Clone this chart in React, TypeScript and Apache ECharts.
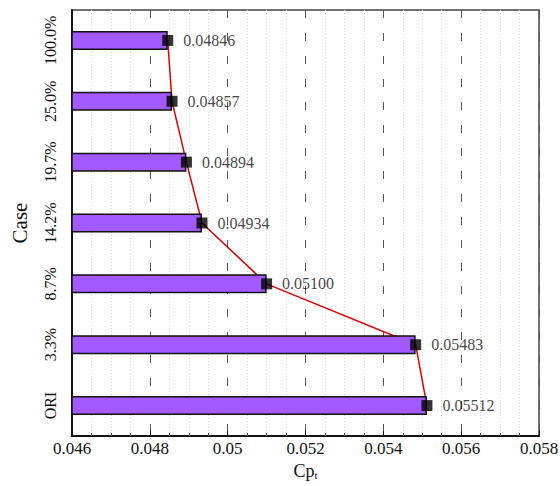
import React, { useEffect, useRef } from "react";
import * as echarts from "echarts";

const categories = ["ORI", "3.3%", "8.7%", "14.2%", "19.7%", "25.0%", "100.0%"];
const cpValues = [0.05512, 0.05483, 0.051, 0.04934, 0.04894, 0.04857, 0.04846];
const xMin = 0.046;
const xMax = 0.058;
const xStep = 0.002;

const FONT = "'Liberation Serif', 'Times New Roman', serif";

export default function App() {
  const ref = useRef<HTMLDivElement>(null);
  useEffect(() => {
    if (!ref.current) return;
    const chart = echarts.init(ref.current, null, { renderer: "svg" });
    chart.setOption({
      animation: false,
      backgroundColor: "#ffffff",
      textStyle: { fontFamily: FONT },
      grid: {
        left: 72,
        right: 21,
        top: 10,
        bottom: 50,
        containLabel: false,
        outerBoundsMode: "none",
        show: true,
        borderColor: "#444",
        borderWidth: 1.5,
        backgroundColor: "transparent",
      },
      xAxis: {
        type: "value",
        min: xMin,
        max: xMax,
        interval: xStep,
        name: "{a|Cp}{b|t}",
        nameLocation: "middle",
        nameGap: 16,
        nameTextStyle: {
          rich: {
            a: { fontFamily: FONT, fontSize: 18, color: "#111" },
            b: { fontFamily: FONT, fontSize: 11, color: "#111", verticalAlign: "bottom", padding: [8, 0, 0, 0] },
          },
        },
        axisLine: { show: true, lineStyle: { color: "#111", width: 2 } },
        axisTick: { show: true, inside: true, length: 5, lineStyle: { color: "#111" } },
        minorTick: { show: true, splitNumber: 4, length: 3, lineStyle: { color: "#555" } },
        axisLabel: {
          fontFamily: FONT,
          fontSize: 17,
          color: "#111",
          margin: 4,
          formatter: (v: number) => String(parseFloat(v.toFixed(3))),
        },
        splitLine: { show: true, lineStyle: { color: "#555", width: 1, type: [8, 15] } },
        minorSplitLine: { show: true, lineStyle: { color: "#d6d6d6", width: 1, type: [1, 2] } },
      },
      yAxis: {
        type: "category",
        data: categories,
        name: "Case",
        nameLocation: "middle",
        nameGap: 42,
        nameRotate: 90,
        nameTextStyle: { fontFamily: FONT, fontSize: 21, color: "#111" },
        axisLine: { show: true, lineStyle: { color: "#111", width: 2 } },
        axisTick: { show: false },
        axisLabel: { interval: 0, fontFamily: FONT, fontSize: 16, color: "#111", rotate: 90, margin: 14 },
        splitLine: { show: false },
      },
      series: [
        {
          type: "line",
          data: cpValues,
          z: 1,
          symbol: "none",
          lineStyle: { color: "#e00000", width: 1.5 },
        },
        {
          type: "bar",
          data: cpValues,
          z: 2,
          barWidth: 19,
          itemStyle: { color: "#a259ff", borderColor: "#111", borderWidth: 1.5 },
        },
        {
          type: "scatter",
          data: cpValues.map((v, i) => [v, i]),
          z: 3,
          symbol: "rect",
          symbolSize: 11,
          itemStyle: { color: "#000" },
          label: {
            show: true,
            position: "right",
            distance: 10,
            fontFamily: FONT,
            fontSize: 16,
            color: "#111",
            formatter: (p: any) => (p.value[0] as number).toFixed(5),
          },
        },
      ],
    });
    return () => chart.dispose();
  }, []);
  return (
    <div
      ref={ref}
      style={{ position: "absolute", left: 0, top: 0, width: 560, height: 486 }}
    />
  );
}
